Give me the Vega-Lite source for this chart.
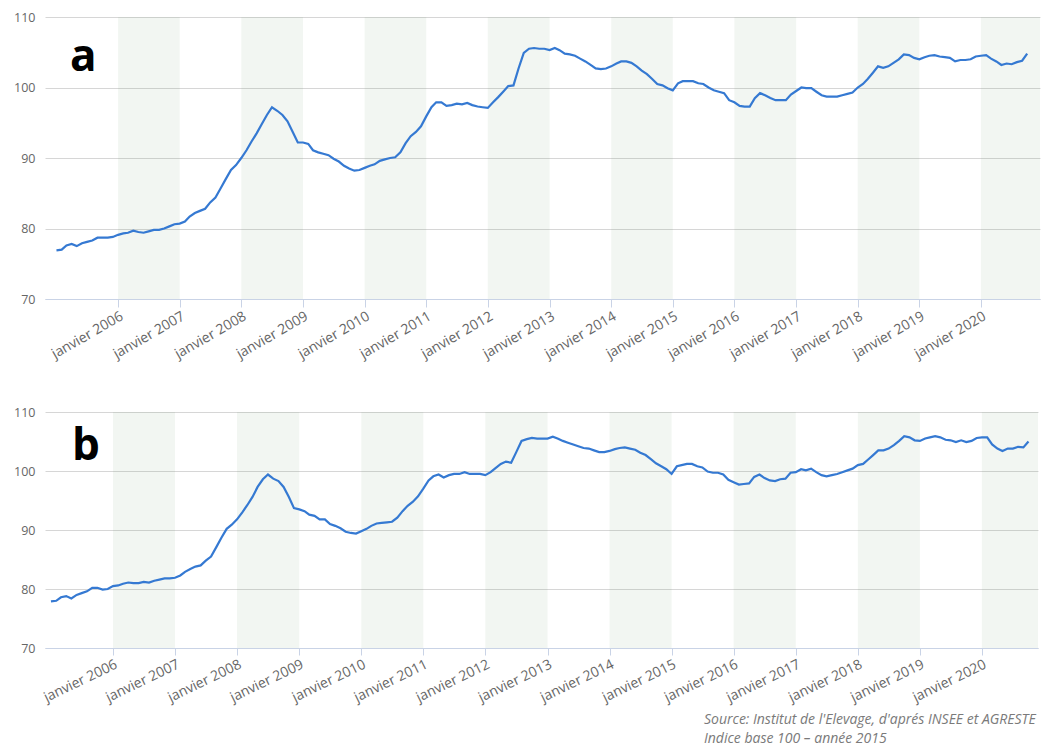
{
  "$schema": "https://vega.github.io/schema/vega-lite/v6.json",
  "background": "white",
  "padding": {"left": 5, "top": 11, "right": 5, "bottom": 0},
  "spacing": 45,
  "config": {
    "view": {"stroke": null},
    "font": "Open Sans",
    "axisX": {
      "grid": false,
      "domainColor": "#c9d3e6",
      "tickColor": "#c9d3e6",
      "tickSize": 8,
      "labelColor": "#666666",
      "labelFontSize": 14,
      "labelPadding": 2,
      "labelAngle": -30,
      "labelOverlap": false,
      "title": null
    },
    "axisY": {
      "grid": true,
      "gridColor": "#d6d6d6",
      "domain": false,
      "ticks": false,
      "labelColor": "#666666",
      "labelFontSize": 12.5,
      "labelPadding": 10,
      "minExtent": 40,
      "maxExtent": 40,
      "title": null
    }
  },
  "title": {
    "text": ["Source: Institut de l'Elevage, d'aprés INSEE et AGRESTE", "Indice base 100 – année 2015"],
    "orient": "bottom",
    "anchor": "start",
    "align": "left",
    "dx": 699,
    "offset": 8,
    "fontSize": 14,
    "fontStyle": "italic",
    "fontWeight": "normal",
    "color": "#7a7a7a",
    "lineHeight": 19
  },
  "datasets": {
    "bands": [
      {"start": "2006-01-01", "end": "2007-01-01"},
      {"start": "2008-01-01", "end": "2009-01-01"},
      {"start": "2010-01-01", "end": "2011-01-01"},
      {"start": "2012-01-01", "end": "2013-01-01"},
      {"start": "2014-01-01", "end": "2015-01-01"},
      {"start": "2016-01-01", "end": "2017-01-01"},
      {"start": "2018-01-01", "end": "2019-01-01"},
      {"start": "2020-01-01", "end": "2021-01-01"}
    ],
    "serieA": [
      {"date": "2005-01-01", "value": 76.9}, {"date": "2005-02-01", "value": 77.0}, {"date": "2005-03-01", "value": 77.6}, {"date": "2005-04-01", "value": 77.8}, {"date": "2005-05-01", "value": 77.5}, {"date": "2005-06-01", "value": 77.9}, {"date": "2005-07-01", "value": 78.1}, {"date": "2005-08-01", "value": 78.3}, {"date": "2005-09-01", "value": 78.7}, {"date": "2005-10-01", "value": 78.7}, {"date": "2005-11-01", "value": 78.7}, {"date": "2005-12-01", "value": 78.8},
      {"date": "2006-01-01", "value": 79.1}, {"date": "2006-02-01", "value": 79.3}, {"date": "2006-03-01", "value": 79.4}, {"date": "2006-04-01", "value": 79.7}, {"date": "2006-05-01", "value": 79.5}, {"date": "2006-06-01", "value": 79.4}, {"date": "2006-07-01", "value": 79.6}, {"date": "2006-08-01", "value": 79.8}, {"date": "2006-09-01", "value": 79.8}, {"date": "2006-10-01", "value": 80.0}, {"date": "2006-11-01", "value": 80.3}, {"date": "2006-12-01", "value": 80.6},
      {"date": "2007-01-01", "value": 80.7}, {"date": "2007-02-01", "value": 81.0}, {"date": "2007-03-01", "value": 81.7}, {"date": "2007-04-01", "value": 82.2}, {"date": "2007-05-01", "value": 82.5}, {"date": "2007-06-01", "value": 82.8}, {"date": "2007-07-01", "value": 83.7}, {"date": "2007-08-01", "value": 84.4}, {"date": "2007-09-01", "value": 85.7}, {"date": "2007-10-01", "value": 87.0}, {"date": "2007-11-01", "value": 88.3}, {"date": "2007-12-01", "value": 89.0},
      {"date": "2008-01-01", "value": 90.0}, {"date": "2008-02-01", "value": 91.1}, {"date": "2008-03-01", "value": 92.3}, {"date": "2008-04-01", "value": 93.5}, {"date": "2008-05-01", "value": 94.8}, {"date": "2008-06-01", "value": 96.1}, {"date": "2008-07-01", "value": 97.2}, {"date": "2008-08-01", "value": 96.7}, {"date": "2008-09-01", "value": 96.1}, {"date": "2008-10-01", "value": 95.2}, {"date": "2008-11-01", "value": 93.7}, {"date": "2008-12-01", "value": 92.2},
      {"date": "2009-01-01", "value": 92.2}, {"date": "2009-02-01", "value": 92.0}, {"date": "2009-03-01", "value": 91.1}, {"date": "2009-04-01", "value": 90.8}, {"date": "2009-05-01", "value": 90.6}, {"date": "2009-06-01", "value": 90.4}, {"date": "2009-07-01", "value": 89.9}, {"date": "2009-08-01", "value": 89.5}, {"date": "2009-09-01", "value": 88.9}, {"date": "2009-10-01", "value": 88.5}, {"date": "2009-11-01", "value": 88.2}, {"date": "2009-12-01", "value": 88.3},
      {"date": "2010-01-01", "value": 88.6}, {"date": "2010-02-01", "value": 88.9}, {"date": "2010-03-01", "value": 89.1}, {"date": "2010-04-01", "value": 89.6}, {"date": "2010-05-01", "value": 89.8}, {"date": "2010-06-01", "value": 90.0}, {"date": "2010-07-01", "value": 90.1}, {"date": "2010-08-01", "value": 90.8}, {"date": "2010-09-01", "value": 92.1}, {"date": "2010-10-01", "value": 93.1}, {"date": "2010-11-01", "value": 93.7}, {"date": "2010-12-01", "value": 94.5},
      {"date": "2011-01-01", "value": 95.9}, {"date": "2011-02-01", "value": 97.2}, {"date": "2011-03-01", "value": 97.9}, {"date": "2011-04-01", "value": 97.9}, {"date": "2011-05-01", "value": 97.4}, {"date": "2011-06-01", "value": 97.5}, {"date": "2011-07-01", "value": 97.7}, {"date": "2011-08-01", "value": 97.6}, {"date": "2011-09-01", "value": 97.8}, {"date": "2011-10-01", "value": 97.5}, {"date": "2011-11-01", "value": 97.3}, {"date": "2011-12-01", "value": 97.2},
      {"date": "2012-01-01", "value": 97.1}, {"date": "2012-02-01", "value": 97.9}, {"date": "2012-03-01", "value": 98.6}, {"date": "2012-04-01", "value": 99.4}, {"date": "2012-05-01", "value": 100.2}, {"date": "2012-06-01", "value": 100.3}, {"date": "2012-07-01", "value": 102.7}, {"date": "2012-08-01", "value": 104.9}, {"date": "2012-09-01", "value": 105.5}, {"date": "2012-10-01", "value": 105.6}, {"date": "2012-11-01", "value": 105.5}, {"date": "2012-12-01", "value": 105.5},
      {"date": "2013-01-01", "value": 105.3}, {"date": "2013-02-01", "value": 105.6}, {"date": "2013-03-01", "value": 105.3}, {"date": "2013-04-01", "value": 104.8}, {"date": "2013-05-01", "value": 104.7}, {"date": "2013-06-01", "value": 104.5}, {"date": "2013-07-01", "value": 104.1}, {"date": "2013-08-01", "value": 103.7}, {"date": "2013-09-01", "value": 103.2}, {"date": "2013-10-01", "value": 102.7}, {"date": "2013-11-01", "value": 102.6}, {"date": "2013-12-01", "value": 102.7},
      {"date": "2014-01-01", "value": 103.0}, {"date": "2014-02-01", "value": 103.4}, {"date": "2014-03-01", "value": 103.7}, {"date": "2014-04-01", "value": 103.7}, {"date": "2014-05-01", "value": 103.5}, {"date": "2014-06-01", "value": 103.0}, {"date": "2014-07-01", "value": 102.4}, {"date": "2014-08-01", "value": 101.9}, {"date": "2014-09-01", "value": 101.2}, {"date": "2014-10-01", "value": 100.5}, {"date": "2014-11-01", "value": 100.3}, {"date": "2014-12-01", "value": 99.9},
      {"date": "2015-01-01", "value": 99.6}, {"date": "2015-02-01", "value": 100.6}, {"date": "2015-03-01", "value": 100.9}, {"date": "2015-04-01", "value": 100.9}, {"date": "2015-05-01", "value": 100.9}, {"date": "2015-06-01", "value": 100.6}, {"date": "2015-07-01", "value": 100.5}, {"date": "2015-08-01", "value": 100.0}, {"date": "2015-09-01", "value": 99.6}, {"date": "2015-10-01", "value": 99.4}, {"date": "2015-11-01", "value": 99.2}, {"date": "2015-12-01", "value": 98.2},
      {"date": "2016-01-01", "value": 97.9}, {"date": "2016-02-01", "value": 97.4}, {"date": "2016-03-01", "value": 97.3}, {"date": "2016-04-01", "value": 97.3}, {"date": "2016-05-01", "value": 98.5}, {"date": "2016-06-01", "value": 99.2}, {"date": "2016-07-01", "value": 98.9}, {"date": "2016-08-01", "value": 98.5}, {"date": "2016-09-01", "value": 98.2}, {"date": "2016-10-01", "value": 98.2}, {"date": "2016-11-01", "value": 98.2}, {"date": "2016-12-01", "value": 99.0},
      {"date": "2017-01-01", "value": 99.5}, {"date": "2017-02-01", "value": 100.0}, {"date": "2017-03-01", "value": 99.9}, {"date": "2017-04-01", "value": 99.9}, {"date": "2017-05-01", "value": 99.4}, {"date": "2017-06-01", "value": 98.9}, {"date": "2017-07-01", "value": 98.7}, {"date": "2017-08-01", "value": 98.7}, {"date": "2017-09-01", "value": 98.7}, {"date": "2017-10-01", "value": 98.9}, {"date": "2017-11-01", "value": 99.1}, {"date": "2017-12-01", "value": 99.3},
      {"date": "2018-01-01", "value": 100.0}, {"date": "2018-02-01", "value": 100.5}, {"date": "2018-03-01", "value": 101.2}, {"date": "2018-04-01", "value": 102.1}, {"date": "2018-05-01", "value": 103.0}, {"date": "2018-06-01", "value": 102.8}, {"date": "2018-07-01", "value": 103.0}, {"date": "2018-08-01", "value": 103.5}, {"date": "2018-09-01", "value": 104.0}, {"date": "2018-10-01", "value": 104.7}, {"date": "2018-11-01", "value": 104.6}, {"date": "2018-12-01", "value": 104.2},
      {"date": "2019-01-01", "value": 104.0}, {"date": "2019-02-01", "value": 104.3}, {"date": "2019-03-01", "value": 104.5}, {"date": "2019-04-01", "value": 104.6}, {"date": "2019-05-01", "value": 104.4}, {"date": "2019-06-01", "value": 104.3}, {"date": "2019-07-01", "value": 104.2}, {"date": "2019-08-01", "value": 103.7}, {"date": "2019-09-01", "value": 103.9}, {"date": "2019-10-01", "value": 103.9}, {"date": "2019-11-01", "value": 104.0}, {"date": "2019-12-01", "value": 104.4},
      {"date": "2020-01-01", "value": 104.5}, {"date": "2020-02-01", "value": 104.6}, {"date": "2020-03-01", "value": 104.1}, {"date": "2020-04-01", "value": 103.7}, {"date": "2020-05-01", "value": 103.2}, {"date": "2020-06-01", "value": 103.4}, {"date": "2020-07-01", "value": 103.3}, {"date": "2020-08-01", "value": 103.6}, {"date": "2020-09-01", "value": 103.8}, {"date": "2020-10-01", "value": 104.8}
    ],
    "serieB": [
      {"date": "2005-01-01", "value": 77.9}, {"date": "2005-02-01", "value": 78.0}, {"date": "2005-03-01", "value": 78.6}, {"date": "2005-04-01", "value": 78.8}, {"date": "2005-05-01", "value": 78.4}, {"date": "2005-06-01", "value": 79.0}, {"date": "2005-07-01", "value": 79.3}, {"date": "2005-08-01", "value": 79.6}, {"date": "2005-09-01", "value": 80.2}, {"date": "2005-10-01", "value": 80.2}, {"date": "2005-11-01", "value": 79.9}, {"date": "2005-12-01", "value": 80.0},
      {"date": "2006-01-01", "value": 80.5}, {"date": "2006-02-01", "value": 80.6}, {"date": "2006-03-01", "value": 80.9}, {"date": "2006-04-01", "value": 81.1}, {"date": "2006-05-01", "value": 81.0}, {"date": "2006-06-01", "value": 81.0}, {"date": "2006-07-01", "value": 81.2}, {"date": "2006-08-01", "value": 81.1}, {"date": "2006-09-01", "value": 81.4}, {"date": "2006-10-01", "value": 81.6}, {"date": "2006-11-01", "value": 81.8}, {"date": "2006-12-01", "value": 81.8},
      {"date": "2007-01-01", "value": 81.9}, {"date": "2007-02-01", "value": 82.3}, {"date": "2007-03-01", "value": 82.9}, {"date": "2007-04-01", "value": 83.4}, {"date": "2007-05-01", "value": 83.8}, {"date": "2007-06-01", "value": 84.0}, {"date": "2007-07-01", "value": 84.8}, {"date": "2007-08-01", "value": 85.5}, {"date": "2007-09-01", "value": 87.1}, {"date": "2007-10-01", "value": 88.7}, {"date": "2007-11-01", "value": 90.2}, {"date": "2007-12-01", "value": 90.9},
      {"date": "2008-01-01", "value": 91.8}, {"date": "2008-02-01", "value": 93.0}, {"date": "2008-03-01", "value": 94.2}, {"date": "2008-04-01", "value": 95.6}, {"date": "2008-05-01", "value": 97.3}, {"date": "2008-06-01", "value": 98.6}, {"date": "2008-07-01", "value": 99.4}, {"date": "2008-08-01", "value": 98.7}, {"date": "2008-09-01", "value": 98.3}, {"date": "2008-10-01", "value": 97.3}, {"date": "2008-11-01", "value": 95.6}, {"date": "2008-12-01", "value": 93.7},
      {"date": "2009-01-01", "value": 93.5}, {"date": "2009-02-01", "value": 93.2}, {"date": "2009-03-01", "value": 92.6}, {"date": "2009-04-01", "value": 92.4}, {"date": "2009-05-01", "value": 91.8}, {"date": "2009-06-01", "value": 91.8}, {"date": "2009-07-01", "value": 91.0}, {"date": "2009-08-01", "value": 90.7}, {"date": "2009-09-01", "value": 90.3}, {"date": "2009-10-01", "value": 89.7}, {"date": "2009-11-01", "value": 89.5}, {"date": "2009-12-01", "value": 89.4},
      {"date": "2010-01-01", "value": 89.8}, {"date": "2010-02-01", "value": 90.2}, {"date": "2010-03-01", "value": 90.7}, {"date": "2010-04-01", "value": 91.1}, {"date": "2010-05-01", "value": 91.2}, {"date": "2010-06-01", "value": 91.3}, {"date": "2010-07-01", "value": 91.4}, {"date": "2010-08-01", "value": 92.1}, {"date": "2010-09-01", "value": 93.2}, {"date": "2010-10-01", "value": 94.1}, {"date": "2010-11-01", "value": 94.8}, {"date": "2010-12-01", "value": 95.7},
      {"date": "2011-01-01", "value": 97.0}, {"date": "2011-02-01", "value": 98.4}, {"date": "2011-03-01", "value": 99.1}, {"date": "2011-04-01", "value": 99.4}, {"date": "2011-05-01", "value": 98.9}, {"date": "2011-06-01", "value": 99.3}, {"date": "2011-07-01", "value": 99.5}, {"date": "2011-08-01", "value": 99.5}, {"date": "2011-09-01", "value": 99.8}, {"date": "2011-10-01", "value": 99.5}, {"date": "2011-11-01", "value": 99.5}, {"date": "2011-12-01", "value": 99.5},
      {"date": "2012-01-01", "value": 99.3}, {"date": "2012-02-01", "value": 99.8}, {"date": "2012-03-01", "value": 100.5}, {"date": "2012-04-01", "value": 101.2}, {"date": "2012-05-01", "value": 101.6}, {"date": "2012-06-01", "value": 101.4}, {"date": "2012-07-01", "value": 103.2}, {"date": "2012-08-01", "value": 105.1}, {"date": "2012-09-01", "value": 105.4}, {"date": "2012-10-01", "value": 105.6}, {"date": "2012-11-01", "value": 105.5}, {"date": "2012-12-01", "value": 105.5},
      {"date": "2013-01-01", "value": 105.5}, {"date": "2013-02-01", "value": 105.8}, {"date": "2013-03-01", "value": 105.5}, {"date": "2013-04-01", "value": 105.1}, {"date": "2013-05-01", "value": 104.8}, {"date": "2013-06-01", "value": 104.5}, {"date": "2013-07-01", "value": 104.2}, {"date": "2013-08-01", "value": 103.9}, {"date": "2013-09-01", "value": 103.8}, {"date": "2013-10-01", "value": 103.5}, {"date": "2013-11-01", "value": 103.2}, {"date": "2013-12-01", "value": 103.2},
      {"date": "2014-01-01", "value": 103.4}, {"date": "2014-02-01", "value": 103.7}, {"date": "2014-03-01", "value": 103.9}, {"date": "2014-04-01", "value": 104.0}, {"date": "2014-05-01", "value": 103.8}, {"date": "2014-06-01", "value": 103.6}, {"date": "2014-07-01", "value": 103.1}, {"date": "2014-08-01", "value": 102.7}, {"date": "2014-09-01", "value": 102.0}, {"date": "2014-10-01", "value": 101.3}, {"date": "2014-11-01", "value": 100.8}, {"date": "2014-12-01", "value": 100.3},
      {"date": "2015-01-01", "value": 99.5}, {"date": "2015-02-01", "value": 100.8}, {"date": "2015-03-01", "value": 101.0}, {"date": "2015-04-01", "value": 101.2}, {"date": "2015-05-01", "value": 101.2}, {"date": "2015-06-01", "value": 100.8}, {"date": "2015-07-01", "value": 100.6}, {"date": "2015-08-01", "value": 99.9}, {"date": "2015-09-01", "value": 99.7}, {"date": "2015-10-01", "value": 99.7}, {"date": "2015-11-01", "value": 99.4}, {"date": "2015-12-01", "value": 98.5},
      {"date": "2016-01-01", "value": 98.1}, {"date": "2016-02-01", "value": 97.7}, {"date": "2016-03-01", "value": 97.8}, {"date": "2016-04-01", "value": 97.9}, {"date": "2016-05-01", "value": 99.0}, {"date": "2016-06-01", "value": 99.4}, {"date": "2016-07-01", "value": 98.8}, {"date": "2016-08-01", "value": 98.4}, {"date": "2016-09-01", "value": 98.3}, {"date": "2016-10-01", "value": 98.6}, {"date": "2016-11-01", "value": 98.7}, {"date": "2016-12-01", "value": 99.7},
      {"date": "2017-01-01", "value": 99.8}, {"date": "2017-02-01", "value": 100.3}, {"date": "2017-03-01", "value": 100.1}, {"date": "2017-04-01", "value": 100.4}, {"date": "2017-05-01", "value": 99.8}, {"date": "2017-06-01", "value": 99.3}, {"date": "2017-07-01", "value": 99.1}, {"date": "2017-08-01", "value": 99.3}, {"date": "2017-09-01", "value": 99.5}, {"date": "2017-10-01", "value": 99.8}, {"date": "2017-11-01", "value": 100.1}, {"date": "2017-12-01", "value": 100.4},
      {"date": "2018-01-01", "value": 101.0}, {"date": "2018-02-01", "value": 101.2}, {"date": "2018-03-01", "value": 101.9}, {"date": "2018-04-01", "value": 102.7}, {"date": "2018-05-01", "value": 103.5}, {"date": "2018-06-01", "value": 103.5}, {"date": "2018-07-01", "value": 103.8}, {"date": "2018-08-01", "value": 104.4}, {"date": "2018-09-01", "value": 105.1}, {"date": "2018-10-01", "value": 105.9}, {"date": "2018-11-01", "value": 105.7}, {"date": "2018-12-01", "value": 105.2},
      {"date": "2019-01-01", "value": 105.1}, {"date": "2019-02-01", "value": 105.5}, {"date": "2019-03-01", "value": 105.7}, {"date": "2019-04-01", "value": 105.9}, {"date": "2019-05-01", "value": 105.7}, {"date": "2019-06-01", "value": 105.3}, {"date": "2019-07-01", "value": 105.2}, {"date": "2019-08-01", "value": 104.9}, {"date": "2019-09-01", "value": 105.2}, {"date": "2019-10-01", "value": 104.9}, {"date": "2019-11-01", "value": 105.1}, {"date": "2019-12-01", "value": 105.6},
      {"date": "2020-01-01", "value": 105.7}, {"date": "2020-02-01", "value": 105.7}, {"date": "2020-03-01", "value": 104.5}, {"date": "2020-04-01", "value": 103.8}, {"date": "2020-05-01", "value": 103.4}, {"date": "2020-06-01", "value": 103.8}, {"date": "2020-07-01", "value": 103.8}, {"date": "2020-08-01", "value": 104.1}, {"date": "2020-09-01", "value": 104.0}, {"date": "2020-10-01", "value": 105.0}
    ]
  },
  "vconcat": [
    {
      "width": 995,
      "height": 282,
      "layer": [
        {
          "data": {"name": "bands"},
          "mark": {"type": "rect", "color": "#6f9a6f", "fillOpacity": 0.09, "clip": true},
          "encoding": {
            "x": {
              "field": "start", "type": "temporal",
              "scale": {"type": "utc", "domain": [{"year": 2004, "month": 10, "date": 25, "utc": true}, {"year": 2020, "month": 12, "date": 16, "utc": true}]},
              "axis": {
                "values": [
                  {"year": 2006, "month": 1, "date": 1, "utc": true}, {"year": 2007, "month": 1, "date": 1, "utc": true}, {"year": 2008, "month": 1, "date": 1, "utc": true},
                  {"year": 2009, "month": 1, "date": 1, "utc": true}, {"year": 2010, "month": 1, "date": 1, "utc": true}, {"year": 2011, "month": 1, "date": 1, "utc": true},
                  {"year": 2012, "month": 1, "date": 1, "utc": true}, {"year": 2013, "month": 1, "date": 1, "utc": true}, {"year": 2014, "month": 1, "date": 1, "utc": true},
                  {"year": 2015, "month": 1, "date": 1, "utc": true}, {"year": 2016, "month": 1, "date": 1, "utc": true}, {"year": 2017, "month": 1, "date": 1, "utc": true},
                  {"year": 2018, "month": 1, "date": 1, "utc": true}, {"year": 2019, "month": 1, "date": 1, "utc": true}, {"year": 2020, "month": 1, "date": 1, "utc": true}
                ],
                "labelExpr": "'janvier ' + utcFormat(datum.value, '%Y')"
              }
            },
            "x2": {"field": "end"},
            "y": {"datum": 70, "type": "quantitative", "scale": {"domain": [70, 110], "nice": false}, "axis": {"values": [70, 80, 90, 100, 110]}},
            "y2": {"datum": 110}
          }
        },
        {
          "data": {"name": "serieA"},
          "mark": {"type": "line", "color": "#3579d2", "strokeWidth": 2.2},
          "encoding": {
            "x": {"field": "date", "type": "temporal"},
            "y": {"field": "value", "type": "quantitative"}
          }
        },
        {
          "data": {"values": [{"label": "a"}]},
          "mark": {"type": "text", "font": "Open Sans", "fontSize": 44, "fontWeight": "bold", "color": "#000000", "align": "left", "baseline": "alphabetic"},
          "encoding": {
            "x": {"datum": {"year": 2005, "month": 3, "date": 22, "utc": true}, "type": "temporal"},
            "y": {"datum": 102.3, "type": "quantitative"},
            "text": {"field": "label"}
          }
        }
      ]
    },
    {
      "width": 993,
      "height": 236,
      "layer": [
        {
          "data": {"name": "bands"},
          "mark": {"type": "rect", "color": "#6f9a6f", "fillOpacity": 0.09, "clip": true},
          "encoding": {
            "x": {
              "field": "start", "type": "temporal",
              "scale": {"type": "utc", "domain": [{"year": 2004, "month": 11, "date": 27, "utc": true}, {"year": 2020, "month": 11, "date": 26, "utc": true}]},
              "axis": {
                "values": [
                  {"year": 2006, "month": 1, "date": 1, "utc": true}, {"year": 2007, "month": 1, "date": 1, "utc": true}, {"year": 2008, "month": 1, "date": 1, "utc": true},
                  {"year": 2009, "month": 1, "date": 1, "utc": true}, {"year": 2010, "month": 1, "date": 1, "utc": true}, {"year": 2011, "month": 1, "date": 1, "utc": true},
                  {"year": 2012, "month": 1, "date": 1, "utc": true}, {"year": 2013, "month": 1, "date": 1, "utc": true}, {"year": 2014, "month": 1, "date": 1, "utc": true},
                  {"year": 2015, "month": 1, "date": 1, "utc": true}, {"year": 2016, "month": 1, "date": 1, "utc": true}, {"year": 2017, "month": 1, "date": 1, "utc": true},
                  {"year": 2018, "month": 1, "date": 1, "utc": true}, {"year": 2019, "month": 1, "date": 1, "utc": true}, {"year": 2020, "month": 1, "date": 1, "utc": true}
                ],
                "labelExpr": "'janvier ' + utcFormat(datum.value, '%Y')",
                "labelAngle": -26,
                "tickSize": 7
              }
            },
            "x2": {"field": "end"},
            "y": {"datum": 70, "type": "quantitative", "scale": {"domain": [70, 110], "nice": false}, "axis": {"values": [70, 80, 90, 100, 110]}},
            "y2": {"datum": 110}
          }
        },
        {
          "data": {"name": "serieB"},
          "mark": {"type": "line", "color": "#3579d2", "strokeWidth": 2.2},
          "encoding": {
            "x": {"field": "date", "type": "temporal"},
            "y": {"field": "value", "type": "quantitative"}
          }
        },
        {
          "data": {"values": [{"label": "b"}]},
          "mark": {"type": "text", "font": "Open Sans", "fontSize": 44, "fontWeight": "bold", "color": "#000000", "align": "left", "baseline": "alphabetic"},
          "encoding": {
            "x": {"datum": {"year": 2005, "month": 5, "date": 5, "utc": true}, "type": "temporal"},
            "y": {"datum": 101.9, "type": "quantitative"},
            "text": {"field": "label"}
          }
        }
      ]
    }
  ]
}
